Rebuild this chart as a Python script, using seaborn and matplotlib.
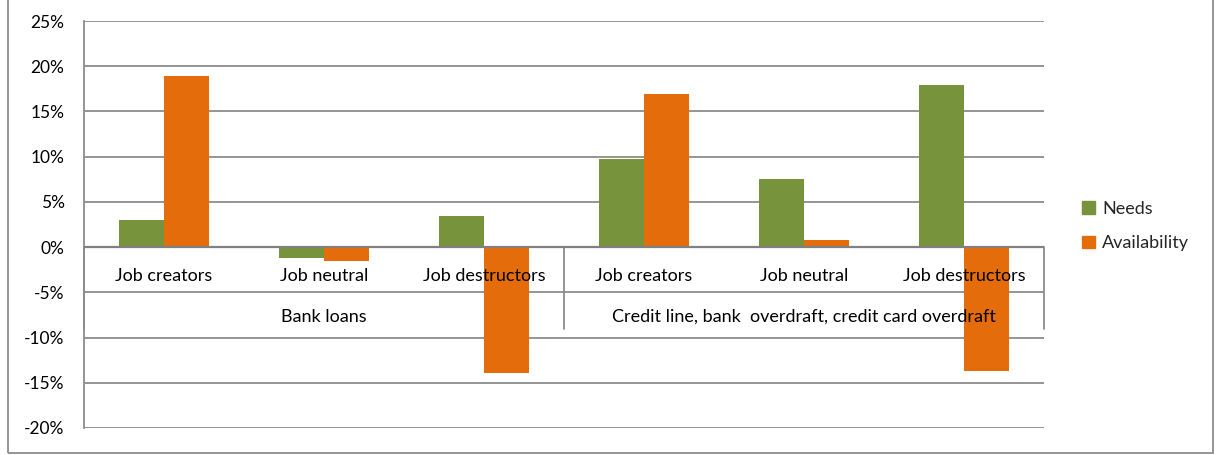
import matplotlib
matplotlib.use("Agg")
import matplotlib.pyplot as plt
import seaborn as sns
import pandas as pd
from matplotlib.patches import Rectangle
from matplotlib.ticker import FuncFormatter

# ---- data ----
groups = ["Bank loans", "Credit line, bank  overdraft, credit card overdraft"]
categories = ["Job creators", "Job neutral", "Job destructors"]
series = ["Needs", "Availability"]
needs = [3.0, -1.2, 3.4, 9.7, 7.5, 17.9]
availability = [18.9, -1.5, -13.9, 16.9, 0.8, -13.7]
y_ticks = [-20, -15, -10, -5, 0, 5, 10, 15, 20, 25]

colors = {"Needs": "#77933C", "Availability": "#E46C0A"}

keys = []
for g in groups:
    for c in categories:
        keys.append(f"{g}|{c}")
rows = []
for k, n, a in zip(keys, needs, availability):
    rows.append({"cat": k, "series": "Needs", "value": n})
    rows.append({"cat": k, "series": "Availability", "value": a})
df = pd.DataFrame(rows)

sns.set_theme(style="white")
plt.rcParams["font.family"] = ["Lato", "DejaVu Sans"]
FS = 13

fig = plt.figure(figsize=(12.25, 4.55), dpi=100)
ax = fig.add_axes([84 / 1225, 1 - 428 / 455, (1044 - 84) / 1225, (428 - 21) / 455])

sns.barplot(data=df, x="cat", y="value", hue="series", order=keys,
            hue_order=series, palette=colors, width=0.56, saturation=1,
            ax=ax, legend=True, zorder=3, edgecolor="none")

ax.set_ylim(-20, 25)
ax.set_xlim(-0.5, 5.5)
ax.set_yticks(y_ticks)
ax.yaxis.set_major_formatter(FuncFormatter(lambda v, p: f"{int(v)}%"))
ax.tick_params(axis="y", length=0, pad=14, labelsize=12.5, colors="#000000")
ax.set_xticks([])
ax.set_xlabel("")
ax.set_ylabel("")
ax.grid(axis="y", color="#8c8c8c", linewidth=1.3, zorder=0)
ax.set_axisbelow(True)
for s in ["top", "right", "bottom"]:
    ax.spines[s].set_visible(False)
ax.spines["left"].set_color("#8c8c8c")
ax.spines["left"].set_linewidth(1.3)

# zero axis line
ax.axhline(0, color="#808080", linewidth=1.6, zorder=4)

# multi-level category labels
for i, k in enumerate(keys):
    ax.text(i, -3.2, k.split("|")[1], ha="center", va="center",
            fontsize=FS, color="#000000", zorder=6)
for gi, g in enumerate(groups):
    ax.text(gi * 3 + 1, -7.7, g, ha="center", va="center",
            fontsize=FS, color="#000000", zorder=6)
for xv in [-0.5, 2.5, 5.5]:
    ax.plot([xv, xv], [0, -9.0], color="#8c8c8c", linewidth=1.3,
            zorder=2, clip_on=False)

# legend
ax.get_legend().remove()
handles = [Rectangle((0, 0), 1, 1, color=colors[s]) for s in series]
fig.legend(handles, series, loc="center left",
           bbox_to_anchor=(1066 / 1225, 1 - 226 / 455), frameon=False,
           fontsize=FS, handlelength=0.7, handleheight=0.7,
           handletextpad=0.4, labelspacing=1.05)

# chart border
fig.patches.append(Rectangle((8 / 1225, 2 / 455), (1213 - 8) / 1225, 1.2,
                             transform=fig.transFigure, fill=False,
                             edgecolor="#8c8c8c", linewidth=1.3))

fig.savefig("out.png", dpi=100, facecolor="white")
